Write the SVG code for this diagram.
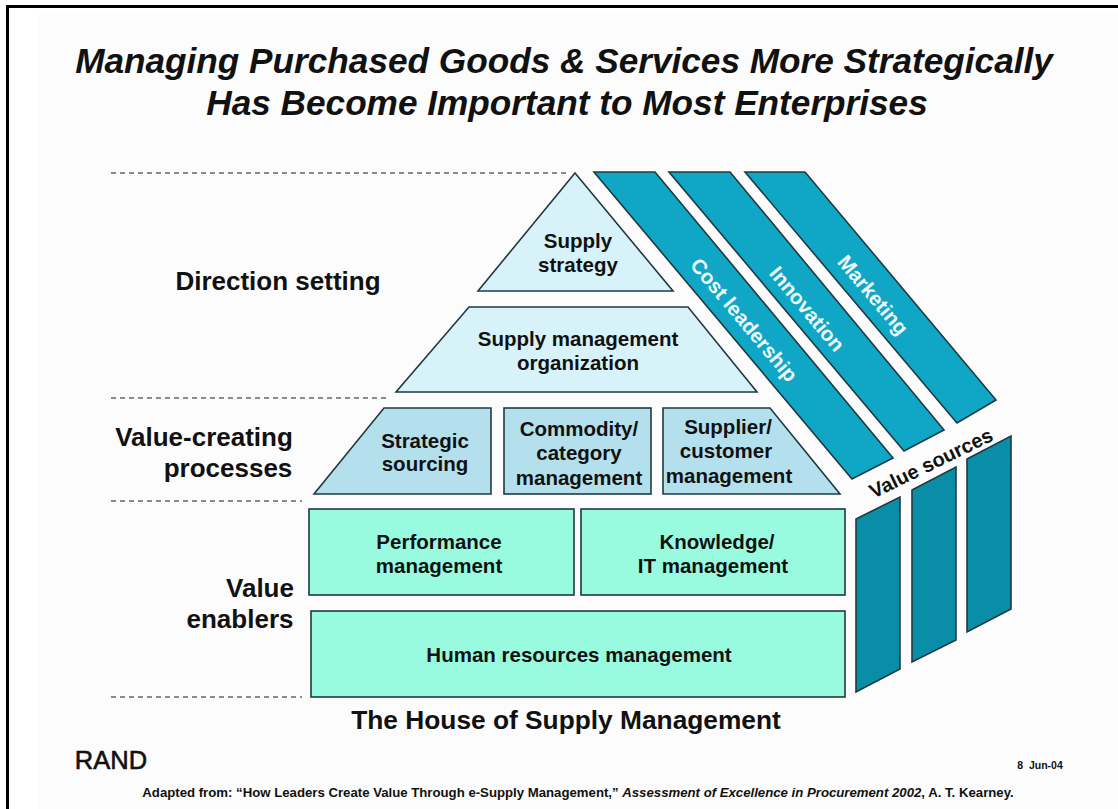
<svg xmlns="http://www.w3.org/2000/svg" width="1118" height="809" viewBox="0 0 1118 809">
<defs><style>
text{font-family:"Liberation Sans",Arial,sans-serif;font-weight:700;fill:#111;text-anchor:middle}
.lbl{font-size:20.500px}
.side{font-size:26px}
.title{font-size:35.200px;font-style:italic}
.s{stroke:#1f3a40;stroke-width:1.600}
.pale{fill:#d8f2f9}
.mid{fill:#b4e0ee}
.mint{fill:#98fbdf}
.roof{fill:#10a6c6}
.wall{fill:#0a8ea8}
.w{font-size:20.500px}
.dash{stroke:#666;stroke-width:1.500;stroke-dasharray:5 4;fill:none}
</style></defs>
<rect width="1118" height="809" fill="#fff"/>
<rect x="39" y="12" width="1079" height="797" fill="#fcfcfc"/>
<path d="M1118 6.500H7.500V809" fill="none" stroke="#000" stroke-width="3"/>
<text class="title" x="564" y="73">Managing Purchased Goods &amp; Services More Strategically</text>
<text class="title" x="567" y="115">Has Become Important to Most Enterprises</text>
<g id="connectors">
<path class="dash" d="M111 173H566"/>
<path class="dash" d="M111 398H390"/>
<path class="dash" d="M111 501H302"/>
<path class="dash" d="M111 697H302"/>
</g>
<text class="side" x="278" y="290">Direction setting</text>
<text class="side" x="204" y="446">Value-creating</text>
<text class="side" x="228" y="477">processes</text>
<text class="side" x="260" y="597">Value</text>
<text class="side" x="240" y="628">enablers</text>
<g id="supply-strategy"><polygon class="pale s" points="575,173 673,291 478,291"/><text class="lbl" x="578" y="248">Supply</text><text class="lbl" x="578" y="272">strategy</text></g>
<g id="supply-management-organization"><polygon class="pale s" points="469,307 688,307 757,392 396,392"/><text class="lbl" x="578" y="346">Supply management</text><text class="lbl" x="578" y="370">organization</text></g>
<g id="strategic-sourcing"><polygon class="mid s" points="384,408 491,408 491,494 314,494"/><text class="lbl" x="425" y="448">Strategic</text><text class="lbl" x="425" y="471">sourcing</text></g>
<g id="commodity-category-management"><rect class="mid s" x="504" y="408" width="147" height="86"/><text class="lbl" x="579" y="436">Commodity/</text><text class="lbl" x="579" y="460">category</text><text class="lbl" x="579" y="485">management</text></g>
<g id="supplier-customer-management"><polygon class="mid s" points="663,408 770,408 840,494 663,494"/><text class="lbl" x="728" y="434">Supplier/</text><text class="lbl" x="726" y="458">customer</text><text class="lbl" x="729" y="483">management</text></g>
<g id="performance-management"><rect class="mint s" x="309" y="509" width="265" height="86"/><text class="lbl" x="439" y="549">Performance</text><text class="lbl" x="439" y="573">management</text></g>
<g id="knowledge-it-management"><rect class="mint s" x="581" y="509" width="264" height="86"/><text class="lbl" x="717" y="549">Knowledge/</text><text class="lbl" x="713" y="573">IT management</text></g>
<g id="human-resources-management"><rect class="mint s" x="311" y="611" width="534" height="86"/><text class="lbl" x="579" y="662">Human resources management</text></g>
<g id="cost-leadership"><polygon class="roof s" points="594,172 655,172 893,458 852,479"/><text class="w" transform="translate(744 320) rotate(50)" y="7" style="fill:#eefafc">Cost leadership</text></g>
<g id="innovation"><polygon class="roof s" points="669,172 730,172 944,430 904,451"/><text class="w" transform="translate(807 309) rotate(50)" y="7" style="fill:#eefafc">Innovation</text></g>
<g id="marketing"><polygon class="roof s" points="745,172 805,172 996,400 957,423"/><text class="w" transform="translate(873 295) rotate(50)" y="7" style="fill:#eefafc">Marketing</text></g>
<g id="wall-1"><polygon class="wall s" points="856,519 900,497 900,669 856,692"/></g>
<g id="wall-2"><polygon class="wall s" points="912,490 956,467 956,640 912,662"/></g>
<g id="wall-3"><polygon class="wall s" points="967,459 1011,436 1011,609 967,632"/></g>
<g id="value-sources-label"><text transform="translate(931 463) rotate(-26)" y="7" style="font-size:20px">Value sources</text></g>
<text x="566" y="729" style="font-size:26.300px">The House of Supply Management</text>
<text x="111" y="769" style="font-size:25.500px;font-weight:400;stroke:#111;stroke-width:.6">RAND</text>
<text x="1040" y="769" style="font-size:10.500px" xml:space="preserve">8  Jun-04</text>
<text x="578" y="797" style="font-size:13.200px">Adapted from: “How Leaders Create Value Through e-Supply Management,” <tspan font-style="italic">Assessment of Excellence in Procurement 2002</tspan>, A. T. Kearney.</text>
</svg>
